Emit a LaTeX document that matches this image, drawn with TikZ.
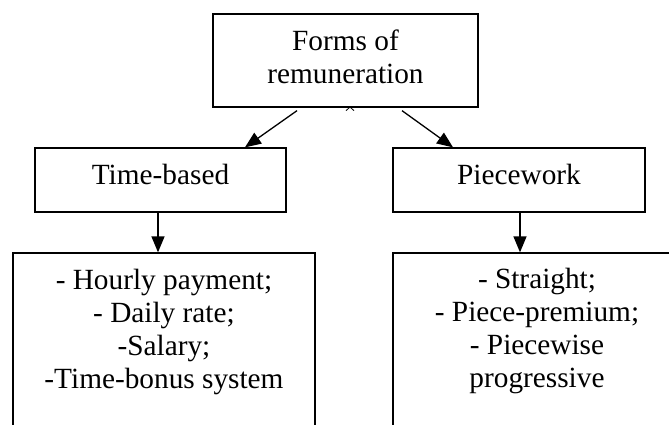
\documentclass[tikz,border=0pt]{standalone}
\usepackage{fontspec}
\setmainfont{Liberation Serif}
\usetikzlibrary{arrows.meta}
\begin{document}
\begin{tikzpicture}[x=1pt,y=-1pt,
  boxst/.style={draw, line width=1.3pt, rectangle, inner sep=0pt},
  txt/.style={inner sep=0pt, align=center, font=\fontsize{29.3}{33}\selectfont},
  arr/.style={line width=1.3pt, -{Triangle[length=16pt,width=13pt]}}]
\useasboundingbox (0,0) rectangle (669,425);
\clip (0,0) rectangle (669,425);
% boxes
\node[boxst, minimum width=265pt, minimum height=93pt] (top) at (345.5,60.5) {};
\node[txt, anchor=north] (toptxt) at (345.5,30) {Forms of\\remuneration};
\node[boxst, minimum width=251pt, minimum height=64pt] (tb) at (160.5,180) {};
\node[txt, anchor=base] (tbtxt) at (160.5,184) {Time-based};
\node[boxst, minimum width=252pt, minimum height=64pt] (pw) at (519,180) {};
\node[txt, anchor=base] (pwtxt) at (519,184) {Piecework};
\node[boxst, minimum width=302pt, minimum height=200pt] (lb) at (164,353) {};
\node[txt, anchor=north] (lbtxt) at (164,268.5) {- Hourly payment;\\- Daily rate;\\-Salary;\\-Time-bonus system};
\node[boxst, minimum width=288pt, minimum height=200pt] (rb) at (537,353) {};
\node[txt, anchor=north] (rbtxt) at (537,267.5) {- Straight;\\- Piece-premium;\\- Piecewise\\progressive};
% connectors
\draw[arr] ([xshift=-48.5pt,yshift=-3pt]top.south) -- ([xshift=84.5pt]tb.north);
\draw[arr] ([xshift=56.5pt,yshift=-3pt]top.south) -- ([xshift=-66pt]pw.north);
\draw[arr] ([xshift=-2.5pt]tb.south) -- ([xshift=-2.5pt]tb.south |- lb.north);
\draw[arr] ([xshift=1pt]pw.south) -- ([xshift=1pt]pw.south |- rb.north);
% small caret under the top box
\draw[line width=0.8pt] ([xshift=0.5pt,yshift=-3pt]top.south) -- ([xshift=4.5pt,yshift=0.6pt]top.south) -- ([xshift=8.5pt,yshift=-3pt]top.south);
\end{tikzpicture}
\end{document}
